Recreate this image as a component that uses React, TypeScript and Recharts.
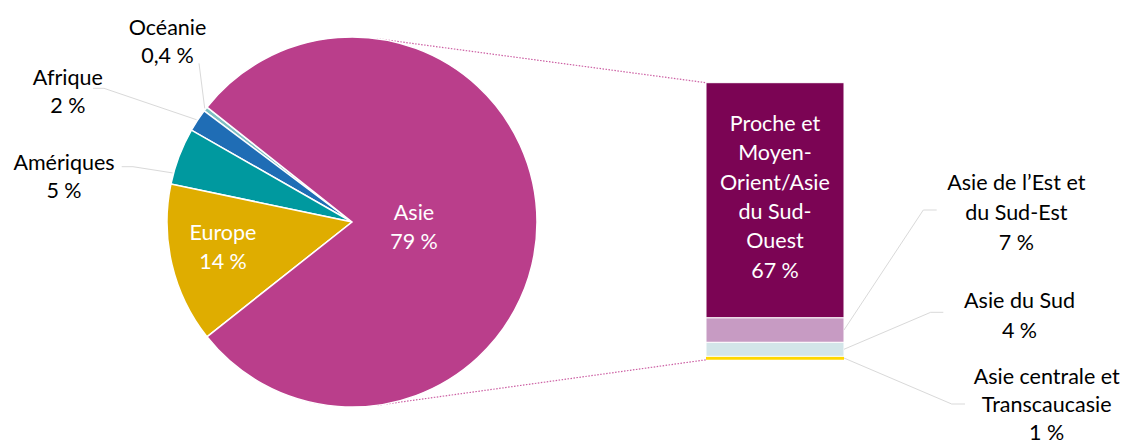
import React from 'react';
import { PieChart, Pie, Cell, BarChart, Bar, XAxis, YAxis, LabelList } from 'recharts';

// world regions (pie)
const pieRegions = ['Océanie', 'Afrique', 'Amériques', 'Europe', 'Asie'];
const pieValues = [0.4, 2, 5, 14, 79];
const pieColors = ['#7FBFC4', '#1F6DB5', '#00999F', '#DFAD00', '#BA3E8B'];

// Asia breakdown (bar), top to bottom
const asiaRegions = [
  'Proche et Moyen-Orient/Asie du Sud-Ouest',
  'Asie de l’Est et du Sud-Est',
  'Asie du Sud',
  'Asie centrale et Transcaucasie',
];
const asiaKeys = ['proche', 'est', 'sud', 'centrale'];
const asiaValues = [67, 7, 4, 1];
const asiaColors = ['#7B0454', '#C79BC3', '#D3E5E9', '#FFD700'];
const asiaLabelLines = [
  ['Proche et', 'Moyen-', 'Orient/Asie', 'du Sud-', 'Ouest'],
  ['Asie de l’Est et', 'du Sud-Est'],
  ['Asie du Sud'],
  ['Asie centrale et', 'Transcaucasie'],
];

const W = 1125;
const H = 445;
const FONT = 'Lato, "Open Sans", sans-serif';
const FONT_SIZE = 21.5;
const PIE = { cx: 352, cy: 222, r: 185 };
const BAR = { left: 706, right: 844, top: 82.7, bottom: 359.8 };
const LEADER = '#D9D9D9';

const fmt = (v: number) => String(v).replace('.', ',') + '\u00a0%';

// label placement for the pie (layout only)
const pieLabelLayout = [
  { x: 167.5, y: 26.7, lead: [[199, 63.3]], shift: 0, inside: false },
  { x: 67.8, y: 76.7, lead: [[93, 88.3], [104, 88.3]], shift: 0, inside: false },
  { x: 64, y: 161.7, lead: [[121.7, 166.7], [133, 166.7]], shift: 5.5, inside: false },
  { x: 223, y: 231.7, lead: [], shift: 0, inside: true },
  { x: 414, y: 211.7, lead: [], shift: 0, inside: true },
];

// label placement for bar segments (null = inside)
const barLabelLayout: any[] = [
  null,
  { x: 1016.3, y: 181.7, gap: 30, lead: [[923.3, 210], [936.7, 210]] },
  { x: 1019.5, y: 300, gap: 30, lead: [[930.7, 312.3], [943.3, 312.3]] },
  { x: 1046.7, y: 376, gap: 28, lead: [[951.7, 404], [965, 404]] },
];

const pieData = pieRegions.map((name, i) => ({ name, value: pieValues[i] }));
const barData = [
  asiaKeys.reduce((row: any, k, i) => {
    row[k] = asiaValues[i];
    return row;
  }, { name: 'Asie' }),
];

const total = pieValues.reduce((a, b) => a + b, 0);
const otherSpan = ((total - pieValues[pieValues.length - 1]) / total) * 360;
const startAngle = 180 - otherSpan / 2;

const RAD = Math.PI / 180;

const TextBlock = ({ x, y, lines, fill, gap }: { x: number; y: number; lines: string[]; fill: string; gap: number }) => (
  <text x={x} y={y} textAnchor="middle" dominantBaseline="central" fill={fill} fontFamily={FONT} fontSize={FONT_SIZE}>
    {lines.map((l, i) => (
      <tspan key={i} x={x} y={y + i * gap}>
        {l}
      </tspan>
    ))}
  </text>
);

const renderPieLabel = (props: any) => {
  const { cx, cy, midAngle, outerRadius, index } = props;
  const lay = pieLabelLayout[index];
  const lines = [pieRegions[index], fmt(pieValues[index])];
  let lead = null;
  if (lay.lead.length) {
    const a = (midAngle + lay.shift) * RAD;
    const ex = cx + (outerRadius + 1) * Math.cos(a);
    const ey = cy - (outerRadius + 1) * Math.sin(a);
    const pts = [...lay.lead, [ex, ey]].map((p) => p.join(',')).join(' ');
    lead = <polyline points={pts} fill="none" stroke={LEADER} strokeWidth={1} />;
  }
  return (
    <g key={`pl-${index}`}>
      {lead}
      <TextBlock x={lay.x} y={lay.y} lines={lines} fill={lay.inside ? '#FFFFFF' : '#000000'} gap={lay.inside ? 29.5 : 28.4} />
    </g>
  );
};

const makeBarLabel = (seg: number) => (props: any) => {
  const { x, y, width, height } = props;
  const lay = barLabelLayout[seg];
  const lines = [...asiaLabelLines[seg], fmt(asiaValues[seg])];
  if (!lay) {
    const gap = 29.4;
    const cxm = x + width / 2;
    const top = y + height / 2 - 4 - ((lines.length - 1) * gap) / 2;
    return <TextBlock x={cxm} y={top} lines={lines} fill="#FFFFFF" gap={gap} />;
  }
  const sx = x + width;
  const sy = y + height / 2;
  const pts = [[sx, sy], ...lay.lead].map((p: number[]) => p.join(',')).join(' ');
  return (
    <g>
      <polyline points={pts} fill="none" stroke={LEADER} strokeWidth={1} />
      <TextBlock x={lay.x} y={lay.y} lines={lines} fill="#000000" gap={lay.gap} />
    </g>
  );
};

// tangent point from external point to the pie circle
const tangent = (px: number, py: number, upper: boolean) => {
  const dx = px - PIE.cx;
  const dy = py - PIE.cy;
  const d = Math.sqrt(dx * dx + dy * dy);
  const base = Math.atan2(dy, dx);
  const off = Math.acos(PIE.r / d);
  const a = upper ? base - off : base + off;
  return [PIE.cx + PIE.r * Math.cos(a), PIE.cy + PIE.r * Math.sin(a)];
};

const App: React.FC = () => {
  const t1 = tangent(BAR.left, BAR.top, true);
  const t2 = tangent(BAR.left, BAR.bottom, false);
  const abs: React.CSSProperties = { position: 'absolute', left: 0, top: 0 };
  return (
    <div style={{ position: 'absolute', left: 0, top: 0, width: W, height: H, background: '#fff' }}>
      <svg width={W} height={H} style={abs}>
        <line x1={t1[0]} y1={t1[1]} x2={BAR.left} y2={BAR.top} stroke="#CC5FA3" strokeWidth={1.2} strokeDasharray="1.5 1.5" />
        <line x1={t2[0]} y1={t2[1]} x2={BAR.left} y2={BAR.bottom} stroke="#CC5FA3" strokeWidth={1.2} strokeDasharray="1.5 1.5" />
      </svg>
      <div style={abs}>
        <PieChart width={W} height={H} margin={{ top: 0, right: 0, bottom: 0, left: 0 }}>
          <Pie
            data={pieData}
            dataKey="value"
            nameKey="name"
            cx={PIE.cx}
            cy={PIE.cy}
            outerRadius={PIE.r}
            startAngle={startAngle}
            endAngle={startAngle + 360}
            stroke="#FFFFFF"
            strokeWidth={1.5}
            label={renderPieLabel}
            labelLine={false}
            isAnimationActive={false}
          >
            {pieData.map((d, i) => (
              <Cell key={d.name} fill={pieColors[i]} />
            ))}
          </Pie>
        </PieChart>
      </div>
      <div style={abs}>
        <BarChart
          width={W}
          height={H}
          data={barData}
          barCategoryGap={0}
          margin={{ top: BAR.top, left: BAR.left, right: W - BAR.right, bottom: H - BAR.bottom }}
        >
          <XAxis dataKey="name" hide />
          <YAxis type="number" domain={[0, 79]} hide />
          {[3, 2, 1, 0].map((seg) => (
            <Bar
              key={asiaKeys[seg]}
              dataKey={asiaKeys[seg]}
              name={asiaRegions[seg]}
              stackId="asie"
              fill={asiaColors[seg]}
              stroke={seg === 3 ? 'none' : '#FFFFFF'}
              strokeWidth={1}
              isAnimationActive={false}
            >
              <LabelList dataKey={asiaKeys[seg]} content={makeBarLabel(seg)} />
            </Bar>
          ))}
        </BarChart>
      </div>
    </div>
  );
};

export default App;
